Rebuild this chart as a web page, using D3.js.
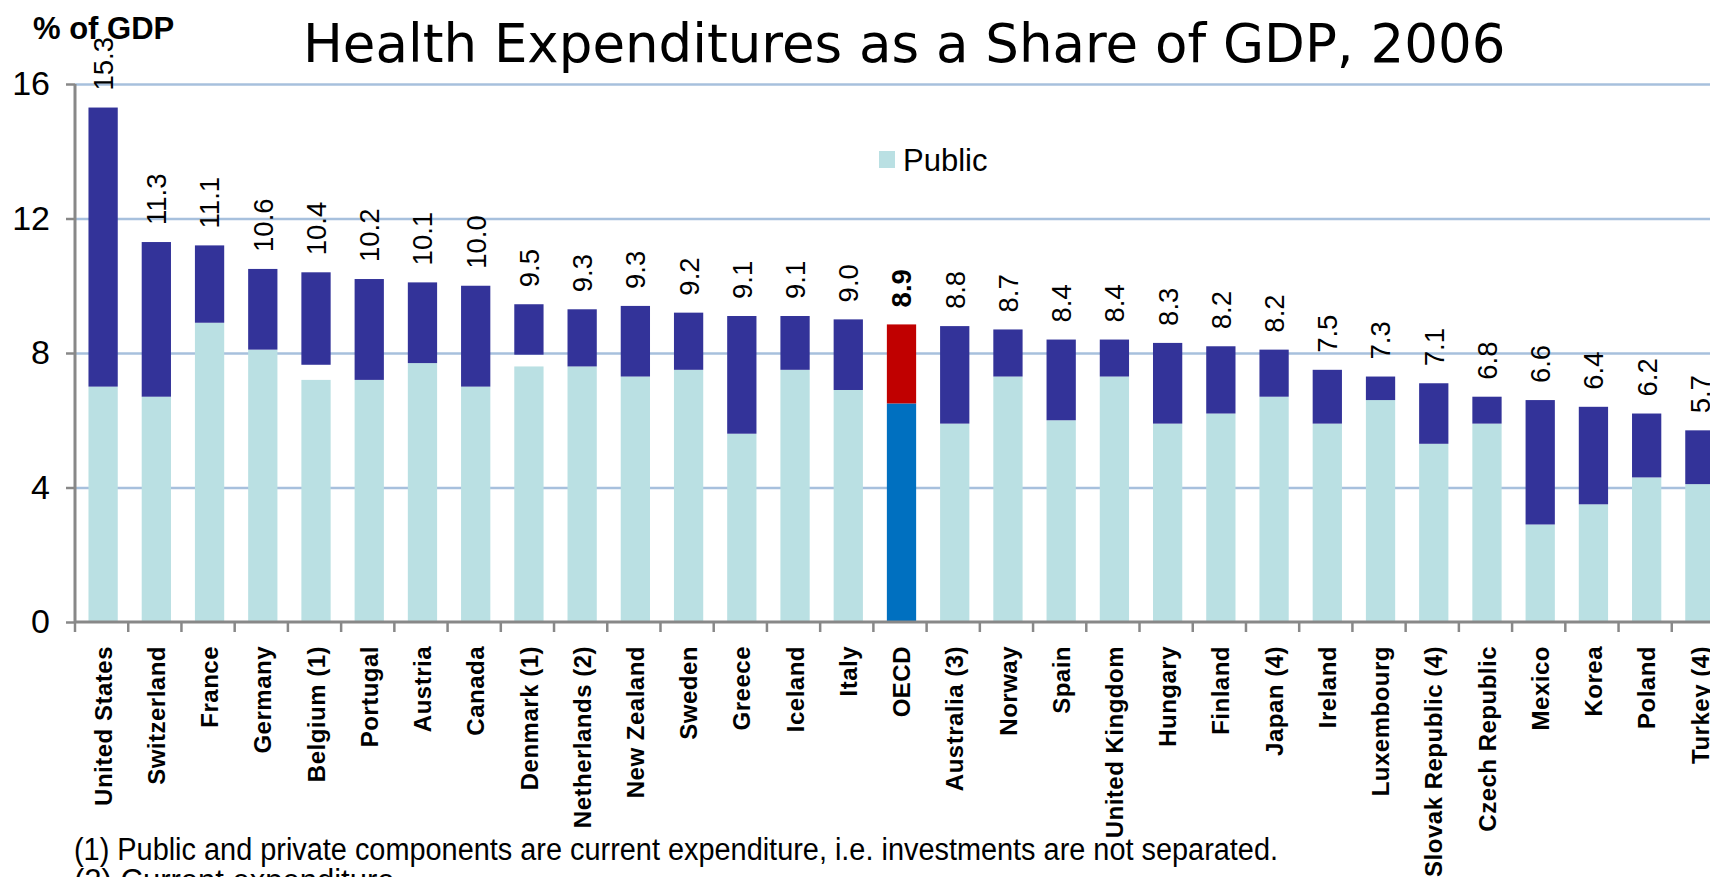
<!DOCTYPE html>
<html><head><meta charset="utf-8">
<script src="https://cdn.jsdelivr.net/npm/d3@7"></script>
<style>
html,body{margin:0;padding:0;background:#fff;overflow:hidden;}
svg{display:block;}
</style></head>
<body>
<svg id="chart" width="1710" height="877"></svg>
<script>
const countries = ["United States","Switzerland","France","Germany","Belgium (1)","Portugal","Austria","Canada","Denmark (1)","Netherlands (2)","New Zealand","Sweden","Greece","Iceland","Italy","OECD","Australia (3)","Norway","Spain","United Kingdom","Hungary","Finland","Japan (4)","Ireland","Luxembourg","Slovak Republic (4)","Czech Republic","Mexico","Korea","Poland","Turkey (4)"];
const publicShare = [7.0,6.7,8.9,8.1,7.2,7.2,7.7,7.0,7.6,7.6,7.3,7.5,5.6,7.5,6.9,6.5,5.9,7.3,6.0,7.3,5.9,6.2,6.7,5.9,6.6,5.3,5.9,2.9,3.5,4.3,4.1];
const investmentGap = [0,0,0,0,0.45,0,0,0,0.35,0,0,0,0,0,0,0,0,0,0,0,0,0,0,0,0,0,0,0,0,0,0];
const privateShare = [8.3,4.6,2.3,2.4,2.75,3.0,2.4,3.0,1.5,1.7,2.1,1.7,3.5,1.6,2.1,2.35,2.9,1.4,2.4,1.1,2.4,2.0,1.4,1.6,0.7,1.8,0.8,3.7,2.9,1.9,1.6];
const totalLabels = ["15.3","11.3","11.1","10.6","10.4","10.2","10.1","10.0","9.5","9.3","9.3","9.2","9.1","9.1","9.0","8.9","8.8","8.7","8.4","8.4","8.3","8.2","8.2","7.5","7.3","7.1","6.8","6.6","6.4","6.2","5.7"];
const yTicks = [0,4,8,12,16];
const highlight = "OECD";

const svg = d3.select("#chart");
const left = 75, baseY = 622, topY = 84;
const x = d3.scaleBand().domain(countries).range([left, left + 1650]).paddingInner(0.45).paddingOuter(0.225);
const y = d3.scaleLinear().domain([0,16]).range([baseY, topY]);
const step = x.step();

const data = countries.map((c,i)=>({c, pub:publicShare[i], gap:investmentGap[i], priv:privateShare[i], label:totalLabels[i]}));

// gridlines
svg.append("g").attr("transform",`translate(${left},0)`)
  .call(d3.axisLeft(y).tickValues(yTicks.filter(v=>v>0)).tickSize(-(1710-left)).tickFormat(""))
  .call(g=>g.select(".domain").remove())
  .call(g=>g.selectAll("line").attr("stroke","#A7C0DD").attr("stroke-width",2.5));

// bars
const bw = x.bandwidth();
const g = svg.append("g");
data.forEach(d=>{
  const isH = d.c===highlight;
  g.append("rect").attr("x",x(d.c)+1.5).attr("width",bw).attr("y",y(d.pub)).attr("height",y(0)-y(d.pub))
    .attr("fill", isH ? "#0070C0" : "#BAE0E3");
  const s = d.pub + d.gap;
  g.append("rect").attr("x",x(d.c)+1.5).attr("width",bw).attr("y",y(s+d.priv)).attr("height",y(s)-y(s+d.priv))
    .attr("fill", isH ? "#C00000" : "#333399");
  g.append("text")
    .attr("transform",`translate(${x(d.c)+1.5+bw/2},${y(s+d.priv)-17}) rotate(-90)`)
    .attr("dy","0.36em").attr("text-anchor","start")
    .attr("font-family","'Liberation Sans', Arial, sans-serif").attr("font-size",27.5)
    .attr("font-weight", isH ? "bold" : "normal")
    .attr("fill","#000").text(d.label);
});

// x axis
const xa = svg.append("g").attr("transform",`translate(0,${baseY})`)
  .call(d3.axisBottom(x).tickSize(0).tickPadding(0));
xa.select(".domain").attr("stroke","#888").attr("stroke-width",3).attr("d",`M${left},0H1710`);
xa.selectAll(".tick text")
  .attr("transform","rotate(-90)").attr("text-anchor","end")
  .attr("x",-24).attr("y",1.5).attr("dy","0.36em")
  .attr("font-family","'Liberation Sans', Arial, sans-serif").attr("font-size",24).attr("font-weight","bold")
  .attr("letter-spacing","0.5px")
  .attr("fill","#000");
// boundary ticks
svg.append("g").selectAll("line").data(d3.range(countries.length+1)).join("line")
  .attr("x1",i=>left+i*step).attr("x2",i=>left+i*step).attr("y1",baseY).attr("y2",baseY+10)
  .attr("stroke","#888").attr("stroke-width",2.5);

// y axis
const ya = svg.append("g").attr("transform",`translate(${left},0)`)
  .call(d3.axisLeft(y).tickValues(yTicks).tickSize(9).tickPadding(16).tickFormat(d3.format("d")));
ya.select(".domain").attr("stroke","#888").attr("stroke-width",3).attr("d",`M0,${topY}V${baseY}`);
ya.selectAll(".tick line").attr("stroke","#888").attr("stroke-width",2.5);
ya.selectAll(".tick text").attr("font-family","'Liberation Sans', Arial, sans-serif").attr("font-size",34).attr("fill","#000");

// title
svg.append("text").attr("x",303).attr("y",62)
  .attr("font-family","'DejaVu Sans', Verdana, sans-serif").attr("font-size",53).attr("fill","#000")
  .text("Health Expenditures as a Share of GDP, 2006");
svg.append("text").attr("x",33).attr("y",39)
  .attr("font-family","'Liberation Sans', Arial, sans-serif").attr("font-size",31).attr("font-weight","bold").attr("fill","#000")
  .text("% of GDP");

// legend
svg.append("rect").attr("x",879).attr("y",151).attr("width",16).attr("height",17).attr("fill","#BAE0E3");
svg.append("text").attr("x",903).attr("y",171)
  .attr("font-family","'Liberation Sans', Arial, sans-serif").attr("font-size",31).attr("fill","#000").text("Public");

// footnotes
svg.append("text").attr("x",74).attr("y",860)
  .attr("font-family","'Liberation Sans Narrow', 'Liberation Sans', sans-serif").attr("font-size",31).attr("fill","#000")
  .attr("textLength",1204).attr("lengthAdjust","spacingAndGlyphs")
  .text("(1) Public and private components are current expenditure, i.e. investments are not separated.");
svg.append("text").attr("x",74).attr("y",891)
  .attr("font-family","'Liberation Sans Narrow', 'Liberation Sans', sans-serif").attr("font-size",31).attr("fill","#000")
  .text("(2) Current expenditure.");
</script>
</body></html>
